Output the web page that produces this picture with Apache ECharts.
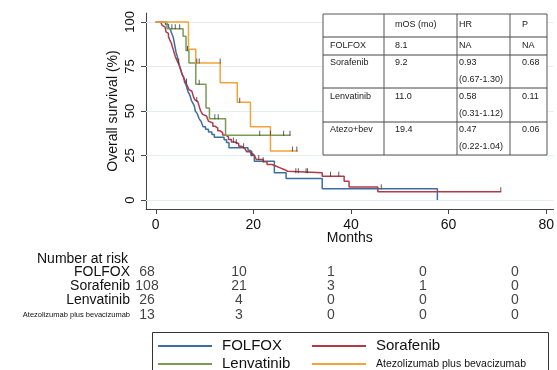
<!DOCTYPE html>
<html>
<head>
<meta charset="utf-8">
<script src="https://cdn.jsdelivr.net/npm/echarts@6/dist/echarts.min.js"></script>
<style>
html,body{margin:0;padding:0;background:#fff}
#chart{width:557px;height:370px}
</style>
</head>
<body>
<div id="chart"></div>
<script>
// KM curves: [month, survival %] after each event
var folfox = [[0,100],[2.0,98.5],[2.6,97.1],[3.0,95.6],[3.2,94.1],[3.4,92.6],[3.6,91.2],[3.8,88.2],[4.0,85.3],[4.2,82.4],[4.4,80.9],[4.6,77.9],[4.9,75.0],[5.1,73.5],[5.4,70.6],[5.7,69.1],[5.9,66.2],[6.2,64.7],[6.5,61.8],[6.7,60.3],[7.0,58.8],[7.3,55.9],[7.6,54.4],[7.9,52.9],[8.1,50.0],[8.5,48.5],[8.9,45.6],[9.3,44.1],[9.7,41.2],[10.2,39.7],[10.8,38.2],[11.5,36.8],[12.0,35.3],[14.0,33.8],[14.5,32.3],[15.0,29.4],[18.9,27.9],[19.5,25.0],[20.2,21.8],[24.3,15.3],[26.7,12.1],[34.1,6.4],[57.7,0]];
var sorafenib = [[0,100],[1.0,99.1],[1.3,98.1],[1.6,97.2],[1.9,96.3],[2.1,94.4],[2.4,93.5],[2.6,91.7],[2.9,89.8],[3.2,88.0],[3.4,86.1],[3.6,84.3],[3.8,82.4],[4.0,80.6],[4.3,78.7],[4.6,76.9],[4.9,75.0],[5.1,73.1],[5.3,71.3],[5.6,69.4],[5.9,67.6],[6.2,65.7],[6.5,63.9],[6.8,62.0],[7.1,61.1],[7.4,60.0],[7.7,58.2],[8.0,56.3],[8.3,55.4],[8.6,54.4],[8.9,52.6],[9.2,50.0],[9.6,48.1],[10.0,47.2],[10.4,46.2],[10.8,44.3],[11.2,43.3],[11.7,41.4],[12.2,40.4],[12.7,38.9],[13.2,37.9],[13.7,36.5],[14.3,35.5],[14.9,34.0],[15.5,32.6],[16.2,31.6],[17.0,30.2],[17.6,29.2],[18.2,28.2],[18.6,27.2],[19.2,26.2],[19.7,25.2],[20.2,24.2],[20.6,22.8],[22.0,21.5],[22.8,20.0],[23.8,19.0],[24.7,18.1],[25.5,17.2],[26.3,16.2],[27.0,15.3],[34.1,13.4],[38.6,10.6],[39.6,7.3],[45.5,4.7],[70.7,4.7]];
var lenvatinib = [[0,100],[2.3,96.2],[5.6,92.0],[6.2,84.0],[6.8,76.9],[8.2,65.0],[10.3,51.7],[11.0,45.7],[14.3,36.4],[27.6,36.4]];
var atezo = [[0,100],[6.7,84.6],[8.2,76.9],[13.2,65.9],[16.7,54.9],[19.4,41.2],[23.5,27.5],[29.1,27.5]];

// censor ticks
var censFolfox = [[18.0,29.4],[19.7,25.0],[46.2,6.4]];
var censSorafenib = [[4.7,76.9],[6.3,65.7],[8.4,55.4],[15.9,32.6],[16.5,31.6],[21.1,22.8],[22.0,21.5],[28.7,15.3],[29.2,15.3],[30.8,15.3],[31.1,15.3],[35.8,13.4],[37.5,13.4],[70.7,4.7]];
var censLenvatinib = [[3.3,96.2],[4.0,96.2],[4.9,96.2],[6.5,84.0],[8.9,65.0],[12.1,45.7],[12.8,45.7],[21.3,36.4],[23.5,36.4],[26.2,36.4],[27.5,36.4]];
var censAtezo = [[8.4,76.9],[8.9,76.9],[13.2,76.9],[17.2,54.9],[28.0,27.5],[28.9,27.5]];

var xTicks = [0,20,40,60,80];
var yTicks = [0,25,50,75,100];

// number at risk
var riskGroups = ['FOLFOX','Sorafenib','Lenvatinib','Atezolizumab plus bevacizumab'];
var riskTimes = [0,20,40,60,80];
var riskFolfox = [68,10,1,0,0];
var riskSorafenib = [108,21,3,1,0];
var riskLenvatinib = [26,4,0,0,0];
var riskAtezo = [13,3,0,0,0];

// inset table
var tableHead = ['','mOS (mo)','HR','P'];
var tableRows = [
  ['FOLFOX','8.1','NA','','NA'],
  ['Sorafenib','9.2','0.93','(0.67-1.30)','0.68'],
  ['Lenvatinib','11.0','0.58','(0.31-1.12)','0.11'],
  ['Atezo+bev','19.4','0.47','(0.22-1.04)','0.06']
];

var colors = {FOLFOX:'#3c6e9f',Sorafenib:'#b23a48',Lenvatinib:'#789b55',Atezo:'#f4a23a'};
var font = '"Liberation Sans", Arial, sans-serif';

var myChart = echarts.init(document.getElementById('chart'));

function kmSeries(name,data,color){
  return {
    name:name, type:'line', step:'end', data:data,
    xAxisIndex:0, yAxisIndex:0,
    symbol:'none', showSymbol:false,
    lineStyle:{color:color,width:1.5},
    itemStyle:{color:color},
    z:3
  };
}
function censSeries(data){
  return {
    type:'scatter', data:data, xAxisIndex:0, yAxisIndex:0,
    symbol:'rect', symbolSize:[1,5], symbolOffset:[0,-2],
    itemStyle:{color:'#333'}, silent:true, z:4
  };
}

var riskData = [];
var riskLists = [riskFolfox,riskSorafenib,riskLenvatinib,riskAtezo];
riskLists.forEach(function(list,gi){
  list.forEach(function(v,ti){ riskData.push([riskTimes[ti],riskGroups[gi],v]); });
});

// table graphic
var tX = [323,384,457,510,547];
var tY = [14,37,55,88,122,155];
var tableEls = [];
tableEls.push({type:'rect',z:100,shape:{x:tX[0],y:tY[0],width:tX[4]-tX[0],height:tY[5]-tY[0]},style:{fill:'#fff',stroke:'#555',lineWidth:1}});
for(var i=1;i<tY.length-1;i++){
  tableEls.push({type:'line',z:101,shape:{x1:tX[0],y1:tY[i],x2:tX[4],y2:tY[i]},style:{stroke:'#444',lineWidth:1}});
}
for(var j=1;j<tX.length-1;j++){
  tableEls.push({type:'line',z:101,shape:{x1:tX[j],y1:tY[0],x2:tX[j],y2:tY[5]},style:{stroke:'#555',lineWidth:1}});
}
var colTextX = [330,395,459,522];
function cellText(x,y,t){
  return {type:'text',z:102,x:x,y:y,style:{text:t,fill:'#222',font:'9px '+font,verticalAlign:'middle'}};
}
tableHead.forEach(function(t,k){ if(t) tableEls.push(cellText(colTextX[k],25,t)); });
var rowY = [46,63,97,130];
tableRows.forEach(function(r,ri){
  var y = rowY[ri];
  tableEls.push(cellText(colTextX[0],y,r[0]));
  tableEls.push(cellText(colTextX[1],y,r[1]));
  tableEls.push(cellText(colTextX[2],y,r[2]));
  if(r[3]) tableEls.push(cellText(colTextX[2],y+17,r[3]));
  tableEls.push(cellText(colTextX[3],y,r[4]));
});

var option = {
  animation:false,
  textStyle:{fontFamily:font},
  title:{text:'Number at risk',left:32,top:247,textStyle:{fontSize:14,fontWeight:'normal',color:'#111',fontFamily:font}},
  grid:[
    {left:146,top:13,right:0,height:196},
    {left:147,top:265,width:368,height:57}
  ],
  xAxis:[
    {type:'value',gridIndex:0,min:-2,max:81.5,
     name:'Months',nameLocation:'middle',nameGap:22,nameMoveOverlap:false,
     nameTextStyle:{fontSize:14,color:'#111',fontFamily:font},
     axisLine:{show:true,onZero:false,lineStyle:{color:'#444',width:1}},
     axisTick:{show:true,customValues:xTicks,length:5,lineStyle:{color:'#444'}},
     axisLabel:{customValues:xTicks,fontSize:14,color:'#111',margin:9,fontFamily:font},
     splitLine:{show:false}},
    {type:'value',gridIndex:1,min:0,max:80,show:false}
  ],
  yAxis:[
    {type:'value',gridIndex:0,min:-5,max:105,
     name:'Overall survival (%)',nameLocation:'middle',nameGap:26,nameRotate:90,nameMoveOverlap:false,
     nameTextStyle:{fontSize:14,color:'#111',fontFamily:font},
     axisLine:{show:true,onZero:false,lineStyle:{color:'#444',width:1}},
     axisTick:{show:true,customValues:yTicks,length:5,lineStyle:{color:'#444'}},
     axisLabel:{customValues:yTicks,rotate:90,fontSize:13,color:'#111',margin:9,fontFamily:font},
     splitLine:{show:false}},
    {type:'category',gridIndex:1,data:riskGroups,inverse:true,
     axisLine:{show:false},axisTick:{show:false},
     axisLabel:{interval:0,margin:17,fontSize:14,color:'#111',fontFamily:font,
       formatter:function(v){ return v.length>15 ? '{s|'+v+'}' : v; },
       rich:{s:{fontSize:7.5,color:'#111',fontFamily:font}}}}
  ],
  legend:[
    {left:153,top:333,height:60,orient:'vertical',data:['FOLFOX','Lenvatinib'],icon:'rect',itemWidth:54,itemHeight:2,itemGap:2,
     textStyle:{fontSize:15,lineHeight:16,color:'#111',fontFamily:font,padding:[0,0,0,5]}},
    {left:307,top:333,height:60,orient:'vertical',data:['Sorafenib','Atezolizumab plus bevacizumab'],icon:'rect',itemWidth:54,itemHeight:2,itemGap:2,
     formatter:function(n){ return n.length>15 ? '{s|'+n+'}' : n; },
     textStyle:{fontSize:15,lineHeight:16,color:'#111',fontFamily:font,padding:[0,0,0,5],
       rich:{s:{fontSize:10.5,lineHeight:16,color:'#111',fontFamily:font}}}}
  ],
  graphic:[
    {type:'rect',shape:{x:152.5,y:332.5,width:396,height:60},style:{fill:'none',stroke:'#333',lineWidth:1},z:1},
    {type:'group',children:tableEls,z:100}
  ],
  series:[
    {name:'grid',type:'line',data:[],xAxisIndex:0,yAxisIndex:0,silent:true,z:1,
     markLine:{silent:true,symbol:'none',label:{show:false},z:1,
       lineStyle:{color:'#e3ecf0',width:1,type:'solid'},
       data:yTicks.map(function(v){return {yAxis:v};})}},
    kmSeries('FOLFOX',folfox,colors.FOLFOX),
    kmSeries('Sorafenib',sorafenib,colors.Sorafenib),
    kmSeries('Lenvatinib',lenvatinib,colors.Lenvatinib),
    kmSeries('Atezolizumab plus bevacizumab',atezo,colors.Atezo),
    censSeries(censFolfox),
    censSeries(censSorafenib),
    censSeries(censLenvatinib),
    censSeries(censAtezo),
    {type:'scatter',xAxisIndex:1,yAxisIndex:1,data:riskData,symbolSize:0,silent:true,
     label:{show:true,position:'inside',fontSize:14,color:'#111',fontFamily:font,
       formatter:function(p){return String(p.value[2]);}}}
  ]
};
myChart.setOption(option);
window.addEventListener('resize',function(){ myChart.resize(); });
</script>
</body>
</html>
